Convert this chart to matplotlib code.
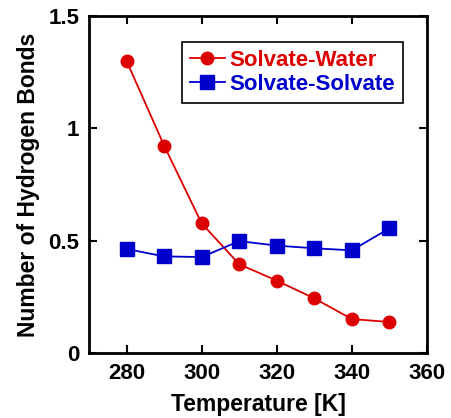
import matplotlib.pyplot as plt

plt.rcParams['font.family'] = ['Liberation Sans', 'DejaVu Sans']
plt.rcParams['font.weight'] = 'bold'

temperature = [280, 290, 300, 310, 320, 330, 340, 350]
solvate_water = [1.30, 0.923, 0.577, 0.395, 0.322, 0.243, 0.151, 0.138]
solvate_solvate = [0.463, 0.430, 0.427, 0.498, 0.478, 0.466, 0.457, 0.555]

fig = plt.figure(figsize=(4.52, 4.18), dpi=100)
ax = fig.add_axes([89 / 452, 65 / 418, 338 / 452, 337 / 418])

ax.plot(temperature, solvate_water, color='#dd0000', marker='o', markersize=9,
        linewidth=1.3, label='Solvate-Water')
ax.plot(temperature, solvate_solvate, color='#0000cc', marker='s', markersize=9.5,
        linewidth=1.3, label='Solvate-Solvate')

ax.set_xlim(270, 360)
ax.set_ylim(0, 1.5)
ax.set_xticks([280, 300, 320, 340, 360])
ax.set_yticks([0, 0.5, 1, 1.5])
ax.set_yticklabels(['0', '0.5', '1', '1.5'])
ax.tick_params(direction='in', top=True, right=True, length=6, width=1.5,
               labelsize=16, pad=7)
for s in ax.spines.values():
    s.set_linewidth(2)

ax.set_xlabel('Temperature [K]', fontsize=16.5, fontweight='bold', labelpad=7)
ax.set_ylabel('Number of Hydrogen Bonds', fontsize=16.5, fontweight='bold', labelpad=6)

leg = ax.legend(loc='upper right', bbox_to_anchor=(0.929, 0.923), borderaxespad=0,
                fontsize=16, fancybox=False, framealpha=1, edgecolor='black',
                handlelength=1.6, handletextpad=0.2, borderpad=0.35,
                labelspacing=0.15)
leg.get_frame().set_linewidth(1.2)
for text, line in zip(leg.get_texts(), leg.get_lines()):
    text.set_color(line.get_color())

fig.savefig('out.png', dpi=100)
